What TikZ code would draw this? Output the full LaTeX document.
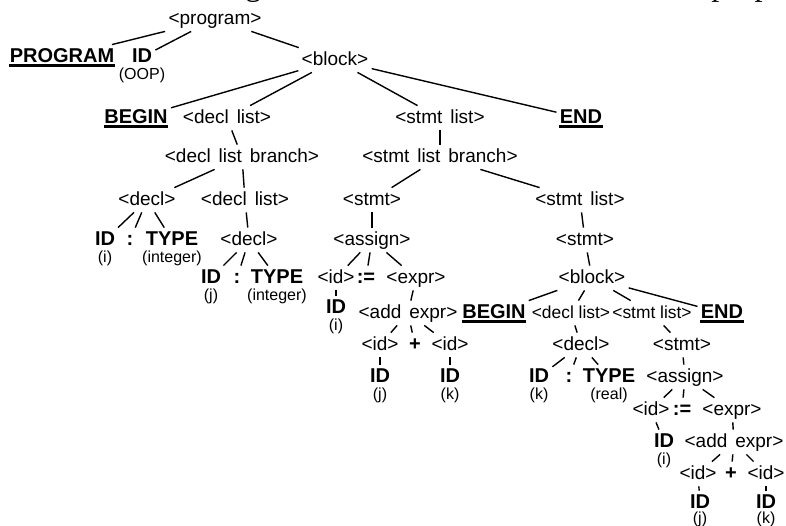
\documentclass[tikz,border=0pt]{standalone}
\usepackage{fontspec}
\setmainfont{Liberation Sans}
\newfontfamily\treefont[WordSpace=1.5]{Liberation Sans}
\newfontfamily\proseserif{Liberation Serif}
\usetikzlibrary{positioning}

\begin{document}
\begin{tikzpicture}[
  x=0.5pt, y=-0.5pt, on grid,
  nt/.style={inner sep=1.5pt, text height=7pt, text depth=2pt,
    font=\treefont\fontsize{9.5}{11}\selectfont},
  ntn/.style={nt, font=\fontsize{8.7}{10}\selectfont},
  tm/.style={nt, font=\fontsize{10}{12}\selectfont\bfseries},
  val/.style={inner sep=1pt, font=\fontsize{8}{9}\selectfont},
  link/.style={line width=0.7pt},
  uline/.style={line width=1.1pt}
]
\useasboundingbox (0,0) rectangle (786,525);
% running text of the page, cut by the top edge
\node[anchor=base west, inner sep=0pt, font=\proseserif\fontsize{16.2}{18}\selectfont]
  (prose) at (2,-5) {The LL nodes in figure 4.7 are those which inherit the propert};

% outer program and block
\node[nt] (program) at (215,19) {<program>};
\node[tm, below left=19pt and 76.5pt of program] (kwprog) {PROGRAM};
\node[tm, below left=19pt and 36.5pt of program] (idprog) {ID};
\node[val, below=9pt of idprog] (idprogv) {(OOP)};
\node[nt, below right=20.5pt and 60pt of program] (block) {<block>};
\node[tm, below left=29pt and 99.5pt of block] (begin1) {BEGIN};
\node[nt, below left=29pt and 54pt of block] (dl1) {<decl list>};
\node[nt, below right=29pt and 52.5pt of block] (sl1) {<stmt list>};
\node[tm, below right=29pt and 123pt of block] (end1) {END};

% declarations
\node[nt, below right=19.5pt and 7.5pt of dl1] (dlb) {<decl list branch>};
\node[nt, below left=21.5pt and 47.5pt of dlb] (d1) {<decl>};
\node[nt, below right=21.5pt and 1.5pt of dlb] (dl2) {<decl list>};
\node[tm, below left=20pt and 21pt of d1] (d1id) {ID};
\node[tm, below left=20pt and 8.5pt of d1] (d1col) {:};
\node[tm, below right=20pt and 12.5pt of d1] (d1type) {TYPE};
\node[val, below=9pt of d1id] (d1idv) {(i)};
\node[val, below=9pt of d1type] (d1typev) {(integer)};
\node[nt, below right=20pt and 2pt of dl2] (d2) {<decl>};
\node[tm, below left=19pt and 19pt of d2] (d2id) {ID};
\node[tm, below left=19pt and 6pt of d2] (d2col) {:};
\node[tm, below right=19pt and 14pt of d2] (d2type) {TYPE};
\node[val, below=9pt of d2id] (d2idv) {(j)};
\node[val, below=9pt of d2type] (d2typev) {(integer)};

% statements: i := j + k
\node[nt, below=19.5pt of sl1] (slb) {<stmt list branch>};
\node[nt, below left=21.5pt and 34pt of slb] (st1) {<stmt>};
\node[nt, below right=21.5pt and 70pt of slb] (sl2) {<stmt list>};
\node[nt, below=20pt of st1] (as1) {<assign>};
\node[nt, below left=19pt and 18pt of as1] (a1id) {<id>};
\node[tm, below left=19pt and 3pt of as1] (a1as) {:=};
\node[nt, below right=19pt and 22pt of as1] (a1ex) {<expr>};
\node[tm, below=15pt of a1id] (a1idid) {ID};
\node[val, below=9pt of a1idid] (a1ididv) {(i)};
\node[nt, below left=17.5pt and 4pt of a1ex] (a1add) {<add expr>};
\node[nt, below left=16pt and 14pt of a1add] (e1l) {<id>};
\node[tm, below right=16pt and 3.5pt of a1add] (e1p) {+};
\node[nt, below right=16pt and 21pt of a1add] (e1r) {<id>};
\node[tm, below=16pt of e1l] (e1lid) {ID};
\node[tm, below=16pt of e1r] (e1rid) {ID};
\node[val, below=9pt of e1lid] (e1lidv) {(j)};
\node[val, below=9pt of e1rid] (e1ridv) {(k)};

% inner block
\node[nt, below right=20pt and 2.5pt of sl2] (st2) {<stmt>};
\node[nt, below right=19pt and 3.5pt of st2] (b2) {<block>};
\node[tm, below left=17.5pt and 49pt of b2] (begin2) {BEGIN};
\node[ntn, below left=17.5pt and 10.5pt of b2] (dl3) {<decl list>};
\node[ntn, below right=17.5pt and 30pt of b2] (sl3) {<stmt list>};
\node[tm, below right=17.5pt and 65pt of b2] (end2) {END};
\node[nt, below right=16pt and 5pt of dl3] (d3) {<decl>};
\node[tm, below left=16pt and 21pt of d3] (d3id) {ID};
\node[tm, below left=16pt and 6pt of d3] (d3col) {:};
\node[tm, below right=16pt and 14pt of d3] (d3type) {TYPE};
\node[val, below=9pt of d3id] (d3idv) {(k)};
\node[val, below=9pt of d3type] (d3typev) {(real)};
\node[nt, below right=16pt and 15pt of sl3] (st3) {<stmt>};
\node[nt, below right=16pt and 1.5pt of st3] (as2) {<assign>};
\node[nt, below left=16.5pt and 17pt of as2] (a2id) {<id>};
\node[tm, below left=16.5pt and 1.5pt of as2] (a2as) {:=};
\node[nt, below right=16.5pt and 23.5pt of as2] (a2ex) {<expr>};
\node[tm, below right=16pt and 6.5pt of a2id] (a2idid) {ID};
\node[val, below=9pt of a2idid] (a2ididv) {(i)};
\node[nt, below right=16pt and 1pt of a2ex] (a2add) {<add expr>};
\node[nt, below left=16pt and 18pt of a2add] (e2l) {<id>};
\node[tm, below left=16pt and 1.5pt of a2add] (e2p) {+};
\node[nt, below right=16pt and 16pt of a2add] (e2r) {<id>};
\node[tm, below right=14.5pt and 1pt of e2l] (e2lid) {ID};
\node[tm, below=14.5pt of e2r] (e2rid) {ID};
\node[val, below=8pt of e2lid] (e2lidv) {(j)};
\node[val, below=8pt of e2rid] (e2ridv) {(k)};

% keywords are underlined
\foreach \k in {kwprog,begin1,end1,begin2,end2}
  \draw[uline] ([shift={(1.5pt,2pt)}]\k.south west) -- ([shift={(-1.5pt,2pt)}]\k.south east);

\draw[link] (program) -- (kwprog);
\draw[link] (program) -- (idprog);
\draw[link] (program) -- (block);
\draw[link] (block) -- (begin1);
\draw[link] (block) -- (dl1);
\draw[link] (block) -- (sl1);
\draw[link] (block) -- (end1);
\draw[link] (dl1) -- (dlb);
\draw[link] (dlb) -- (d1);
\draw[link] (dlb) -- (dl2);
\draw[link] (d1) -- (d1id);
\draw[link] (d1) -- (d1col);
\draw[link] (d1) -- (d1type);
\draw[link] (dl2) -- (d2);
\draw[link] (d2) -- (d2id);
\draw[link] (d2) -- (d2col);
\draw[link] (d2) -- (d2type);
\draw[link] (sl1) -- (slb);
\draw[link] (slb) -- (st1);
\draw[link] (slb) -- (sl2);
\draw[link] (st1) -- (as1);
\draw[link] (as1) -- (a1id);
\draw[link] (as1) -- (a1as);
\draw[link] (as1) -- (a1ex);
\draw[link] (a1id) -- (a1idid);
\draw[link] (a1ex) -- (a1add);
\draw[link] (a1add) -- (e1l);
\draw[link] (a1add) -- (e1p);
\draw[link] (a1add) -- (e1r);
\draw[link] (e1l) -- (e1lid);
\draw[link] (e1r) -- (e1rid);
\draw[link] (sl2) -- (st2);
\draw[link] (st2) -- (b2);
\draw[link] (b2) -- (begin2);
\draw[link] (b2) -- (dl3);
\draw[link] (b2) -- (sl3);
\draw[link] (b2) -- (end2);
\draw[link] (dl3) -- (d3);
\draw[link] (d3) -- (d3id);
\draw[link] (d3) -- (d3col);
\draw[link] (d3) -- (d3type);
\draw[link] (sl3) -- (st3);
\draw[link] (st3) -- (as2);
\draw[link] (as2) -- (a2id);
\draw[link] (as2) -- (a2as);
\draw[link] (as2) -- (a2ex);
\draw[link] (a2id) -- (a2idid);
\draw[link] (a2ex) -- (a2add);
\draw[link] (a2add) -- (e2l);
\draw[link] (a2add) -- (e2p);
\draw[link] (a2add) -- (e2r);
\draw[link] (e2l) -- (e2lid);
\draw[link] (e2r) -- (e2rid);
\end{tikzpicture}
\end{document}
